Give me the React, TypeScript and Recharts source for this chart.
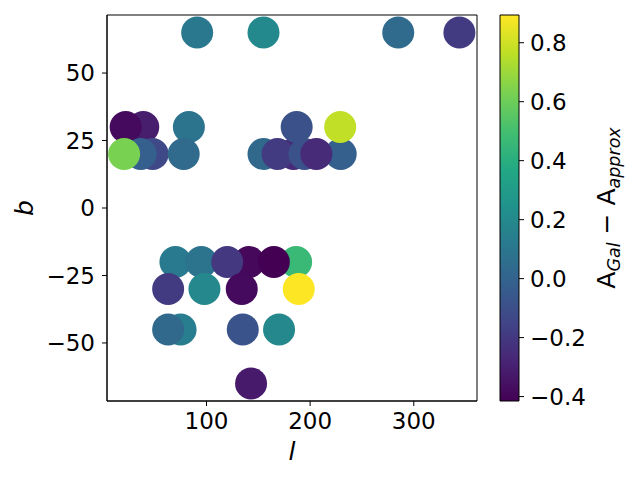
import React from "react";
import {
  ComposedChart,
  ReferenceArea,
  Scatter,
  ScatterChart,
  XAxis,
  YAxis
} from "recharts";

// galactic longitude / latitude of each field, and A_Gal - A_approx
const lValues = [
  91, 155, 285, 344,
  39, 22, 83, 48, 36.5, 20.5, 78,
  155, 184, 168.5, 194.5, 229.5, 206, 187, 229,
  70, 95, 141, 120, 186.5, 165,
  63, 98, 134, 189,
  75, 63, 135, 170,
  143
];
const bValues = [
  65, 65, 65, 65,
  30, 30, 30, 20, 20, 20, 20,
  20, 20, 20, 20, 20, 20, 30, 30,
  -20, -20, -20, -20, -20, -20,
  -30, -30, -30, -30,
  -45, -45, -45, -45,
  -65
];
const deltaValues = [
  0.11, 0.2, 0.04, -0.19,
  -0.31, -0.38, 0.08, -0.13, -0.02, 0.63, 0.04,
  0.03, -0.26, -0.19, -0.09, -0.02, -0.26, -0.09, 0.77,
  0.12, 0.08, -0.39, -0.2, 0.46, -0.415,
  -0.19, 0.19, -0.38, 0.894,
  0.14, 0.03, -0.08, 0.19,
  -0.32
];

const xTicks = [100, 200, 300];
const yTicks = [-50, -25, 0, 25, 50];
const cbarTicks = [-0.4, -0.2, 0, 0.2, 0.4, 0.6, 0.8];

const VIRIDIS = [
  "#440154", "#482475", "#414487", "#355f8d", "#2a788e", "#21918c",
  "#22a884", "#44bf70", "#7ad151", "#bddf26", "#fde725"
];

const FONT = "DejaVu Sans";
const TICK = { fill: "#000", fontSize: 23, fontFamily: FONT };

const cMin = Math.min(...deltaValues);
const cMax = Math.max(...deltaValues);

function hexToRgb(h: string) {
  const n = parseInt(h.slice(1), 16);
  return [(n >> 16) & 255, (n >> 8) & 255, n & 255];
}

function viridis(t: number) {
  const c = Math.max(0, Math.min(1, t)) * (VIRIDIS.length - 1);
  const i = Math.min(Math.floor(c), VIRIDIS.length - 2);
  const f = c - i;
  const a = hexToRgb(VIRIDIS[i]);
  const b = hexToRgb(VIRIDIS[i + 1]);
  const rgb = a.map((v, k) => Math.round(v + (b[k] - v) * f));
  return `rgb(${rgb.join(",")})`;
}

const points = lValues.map((l, i) => ({ l, b: bValues[i], delta: deltaValues[i] }));
const cbarData = [{ x: 0, c: cMin }, { x: 1, c: cMax }];

const fmt = (v: number, digits = 0) => v.toFixed(digits).replace("-", "\u2212");

function Dot(props: any) {
  const { cx, cy, payload } = props;
  return (
    <circle
      cx={cx}
      cy={cy}
      r={16}
      fill={viridis((payload.delta - cMin) / (cMax - cMin))}
    />
  );
}

export default function App() {
  return (
    <div style={{ position: "fixed", left: 0, top: 0, width: 640, height: 480, background: "#fff" }}>
      <div style={{ position: "absolute", left: 0, top: 0 }}>
        <ScatterChart width={640} height={480} margin={{ top: 15, right: 163, bottom: 49, left: 0 }}>
          <XAxis
            type="number"
            dataKey="l"
            domain={[4, 361]}
            ticks={xTicks}
            allowDataOverflow
            height={30}
            tick={TICK}
            tickSize={5}
            tickMargin={7}
            stroke="#000"
            label={{
              content: (p: any) => (
                <text
                  x={p.viewBox.x + p.viewBox.width / 2}
                  y={p.viewBox.y + 59}
                  textAnchor="middle"
                  fontSize={25}
                  fontStyle="italic"
                  fontFamily={FONT}
                >
                  l
                </text>
              )
            }}
          />
          <YAxis
            type="number"
            dataKey="b"
            domain={[-71.5, 71.5]}
            ticks={yTicks}
            allowDataOverflow
            width={107}
            tick={TICK}
            tickSize={5}
            tickMargin={7}
            tickFormatter={(v: number) => fmt(v)}
            stroke="#000"
            label={{
              content: (p: any) => {
                const x = p.viewBox.x + 33;
                const y = p.viewBox.y + p.viewBox.height / 2;
                return (
                  <text
                    x={x}
                    y={y}
                    transform={`rotate(-90, ${x}, ${y})`}
                    textAnchor="middle"
                    fontSize={25}
                    fontStyle="italic"
                    fontFamily={FONT}
                  >
                    b
                  </text>
                );
              }
            }}
          />
          <ReferenceArea x1={4} x2={361} y1={-71.5} y2={71.5} fill="none" stroke="#000" strokeWidth={1} fillOpacity={0} />
          <Scatter data={points} shape={Dot} isAnimationActive={false} />
        </ScatterChart>
      </div>

      <div style={{ position: "absolute", left: 0, top: 0 }}>
        <ComposedChart
          width={640}
          height={480}
          data={cbarData}
          margin={{ top: 15, right: 41, bottom: 79, left: 500 }}
        >
          <defs>
            <linearGradient id="viridisBar" x1="0" y1="1" x2="0" y2="0">
              {VIRIDIS.map((c, i) => (
                <stop key={c} offset={`${(i / (VIRIDIS.length - 1)) * 100}%`} stopColor={c} />
              ))}
            </linearGradient>
          </defs>
          <XAxis type="number" dataKey="x" domain={[0, 1]} hide />
          <YAxis
            type="number"
            dataKey="c"
            orientation="right"
            domain={[cMin, cMax]}
            ticks={cbarTicks}
            allowDataOverflow
            width={80}
            tick={{ ...TICK, textAnchor: "start" }}
            tickSize={5}
            tickMargin={6}
            tickFormatter={(v: number) => fmt(v, 1)}
            stroke="#000"
            axisLine={false}
            label={{
              content: (p: any) => {
                const x = 615;
                const y = p.viewBox.y + p.viewBox.height / 2;
                return (
                  <text
                    x={x}
                    y={y}
                    transform={`rotate(-90, ${x}, ${y})`}
                    textAnchor="middle"
                    fontSize={25}
                    fontFamily={FONT}
                  >
                    A
                    <tspan fontSize={17.5} fontStyle="italic" dy={5}>Gal</tspan>
                    <tspan dy={-5}> {"\u2212"} A</tspan>
                    <tspan fontSize={17.5} fontStyle="italic" dy={5}>approx</tspan>
                  </text>
                );
              }
            }}
          />
          <ReferenceArea
            x1={0}
            x2={1}
            y1={cMin}
            y2={cMax}
            fill="url(#viridisBar)"
            fillOpacity={1}
            stroke="#000"
            strokeWidth={1}
            ifOverflow="visible"
          />
        </ComposedChart>
      </div>
    </div>
  );
}
